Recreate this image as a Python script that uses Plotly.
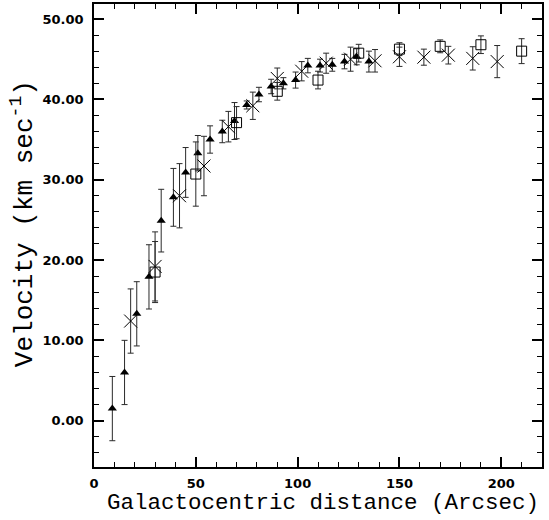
import plotly.graph_objects as go

# Filled triangles
tri_x = [9, 15, 21, 27, 33, 39, 45, 51, 57, 63, 69, 75, 81, 87, 93, 99, 105, 111, 117, 123, 129, 135]
tri_y = [1.5, 6.0, 13.3, 17.9, 24.9, 27.8, 30.9, 33.3, 35.0, 36.0, 37.3, 39.3, 40.6, 41.6, 42.0, 42.4,
         44.2, 44.2, 44.3, 44.7, 45.3, 44.7]
tri_err = [4.0, 4.0, 4.0, 4.0, 3.9, 3.6, 3.1, 2.2, 1.7, 1.4, 2.3, 0.5, 0.9, 0.9, 0.7, 1.0,
           0.9, 0.8, 0.8, 0.9, 1.0, 1.3]

# Crosses
crs_x = [18, 30, 42, 54, 66, 78, 90, 102, 114, 126, 138, 150, 162, 174, 186, 198]
crs_y = [12.4, 19.2, 28.0, 31.7, 36.6, 39.2, 42.6, 43.5, 44.5, 45.0, 44.8, 45.3, 45.25, 45.5, 45.1, 44.7]
crs_err = [4.0, 4.3, 4.0, 3.7, 1.9, 1.7, 1.3, 1.2, 1.25, 1.5, 1.4, 1.2, 1.0, 1.1, 1.45, 2.0]

# Open squares
sq_x = [30, 50, 70, 90, 110, 130, 150, 170, 190, 210]
sq_y = [18.5, 30.7, 37.1, 41.0, 42.4, 45.75, 46.25, 46.6, 46.8, 46.0]
sq_err = [3.8, 4.0, 2.0, 1.1, 1.1, 1.1, 0.8, 0.8, 1.1, 1.55]

x_ticks = [0, 50, 100, 150, 200]
y_ticks = [0, 10, 20, 30, 40, 50]

x_title = "Galactocentric distance (Arcsec)"
y_title = "Velocity (km sec<sup>-1</sup>)"

err_style = dict(type="data", thickness=1, width=3, color="#2a2a2a")

fig = go.Figure()
fig.add_trace(go.Scatter(
    x=tri_x, y=tri_y, mode="markers",
    error_y=dict(array=tri_err, **err_style),
    marker=dict(symbol="triangle-up", size=8, color="black"),
))
fig.add_trace(go.Scatter(
    x=crs_x, y=crs_y, mode="markers",
    error_y=dict(array=crs_err, **err_style),
    marker=dict(symbol="x-thin-open", size=13, color="black", line=dict(width=1, color="black")),
))
fig.add_trace(go.Scatter(
    x=sq_x, y=sq_y, mode="markers",
    error_y=dict(array=sq_err, **err_style),
    marker=dict(symbol="square-open", size=10, color="black", line=dict(width=1, color="black")),
))

axis_common = dict(
    showgrid=False, zeroline=False, showline=True, linecolor="black", linewidth=1.5,
    mirror="allticks", ticks="inside", ticklen=10, tickwidth=1.5, tickcolor="black",
    tickfont=dict(family="DejaVu Sans", size=13, color="black", weight="bold"),
    automargin=False,
)

fig.update_xaxes(
    range=[0, 220], tickvals=x_ticks, ticktext=[str(v) for v in x_ticks],
    minor=dict(dtick=10, tick0=0, ticks="inside", ticklen=5, tickwidth=1, tickcolor="black"),
    ticklabelstandoff=4,
    **axis_common,
)
fig.update_yaxes(
    range=[-5.77, 51.87], tickvals=y_ticks, ticktext=[f"{v:.2f}" for v in y_ticks],
    minor=dict(dtick=2, tick0=0, ticks="inside", ticklen=5, tickwidth=1, tickcolor="black"),
    ticklabelstandoff=6,
    **axis_common,
)

fig.add_annotation(
    text=x_title, xref="paper", yref="paper", x=0.512, y=-0.078,
    xanchor="center", yanchor="middle", showarrow=False,
    font=dict(family="Liberation Mono", size=22.5, color="black"),
)
fig.add_annotation(
    text=y_title, xref="paper", yref="paper", x=-0.158, y=0.525,
    xanchor="center", yanchor="middle", showarrow=False, textangle=-90,
    font=dict(family="Liberation Mono", size=26, color="black"),
)

fig.update_layout(
    width=549, height=520,
    margin=dict(l=94, r=7, t=4, b=53),
    paper_bgcolor="white", plot_bgcolor="white",
    showlegend=False,
)

fig.write_html("out.html", config={"displayModeBar": False},
               post_script="document.body.style.margin='0px';")
